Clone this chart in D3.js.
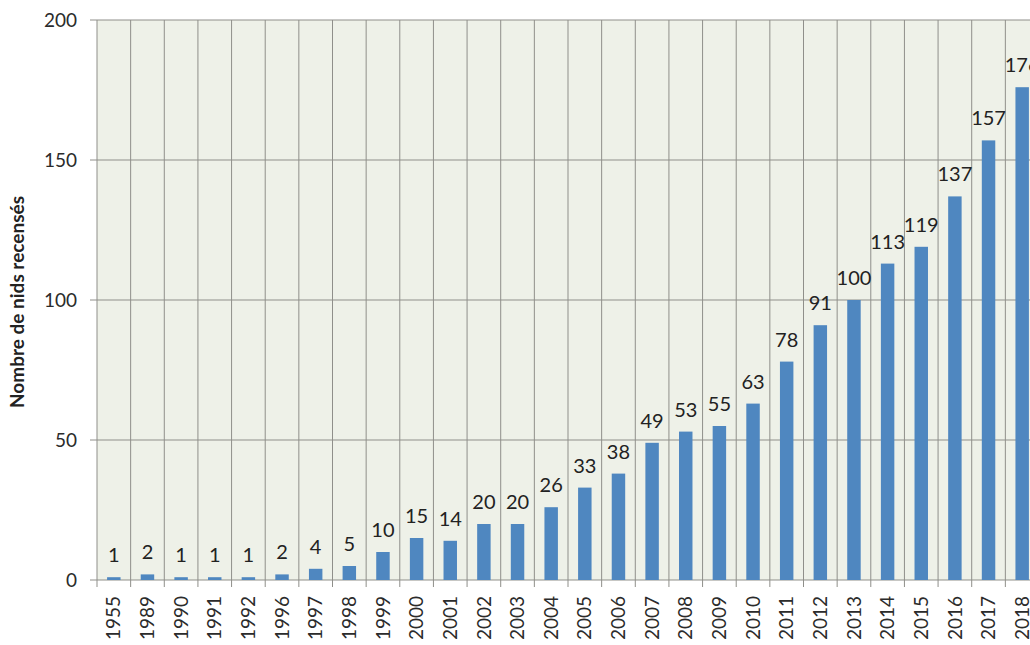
<!DOCTYPE html>
<html>
<head>
<meta charset="utf-8">
<script src="https://cdn.jsdelivr.net/npm/d3@7"></script>
<style>
  body { margin: 0; background: #fff; }
  svg { display: block; font-family: Lato, "Open Sans", sans-serif; }
  .tick text { fill: #2b2b2b; }
</style>
</head>
<body>
<div id="chart"></div>
<script>
const width = 1030;
const height = 645;
const margin = { top: 20, right: -9, bottom: 65, left: 97 };

const years = ["1955", "1989", "1990", "1991", "1992", "1996", "1997", "1998", "1999", "2000",
    "2001", "2002", "2003", "2004", "2005", "2006", "2007", "2008", "2009", "2010",
    "2011", "2012", "2013", "2014", "2015", "2016", "2017", "2018"];
const nids = [1, 2, 1, 1, 1, 2, 4, 5, 10, 15,
    14, 20, 20, 26, 33, 38, 49, 53, 55, 63,
    78, 91, 100, 113, 119, 137, 157, 176];
const yTicks = [0, 50, 100, 150, 200];

const svg = d3.select("#chart").append("svg")
    .attr("width", width)
    .attr("height", height);

const x = d3.scaleBand()
    .domain(years)
    .range([margin.left, width - margin.right])
    .paddingInner(0.6)
    .paddingOuter(0.3);

const y = d3.scaleLinear()
    .domain([0, 200])
    .range([height - margin.bottom, margin.top]);

// plot background (scanned paper tone)
svg.append("rect")
    .attr("x", margin.left)
    .attr("y", margin.top)
    .attr("width", width - margin.right - margin.left)
    .attr("height", y(0) - margin.top)
    .attr("fill", "#eef1e8");

// vertical grid at category borders
const step = x.step();
const borders = years.map((d, i) => margin.left + i * step).concat([margin.left + years.length * step]);
svg.append("g")
    .selectAll("line")
    .data(borders)
    .join("line")
    .attr("x1", d => d)
    .attr("x2", d => d)
    .attr("y1", margin.top)
    .attr("y2", y(0) + 7)
    .attr("stroke", "#8f8f8a")
    .attr("stroke-width", 1);

// horizontal grid
svg.append("g")
    .selectAll("line")
    .data(yTicks)
    .join("line")
    .attr("x1", margin.left - 7)
    .attr("x2", width)
    .attr("y1", d => y(d))
    .attr("y2", d => y(d))
    .attr("stroke", "#8f8f8a")
    .attr("stroke-width", 1);

// y axis labels
const yAxis = svg.append("g")
    .attr("transform", `translate(${margin.left},0)`)
    .call(d3.axisLeft(y).tickValues(yTicks).tickSize(0).tickPadding(20));
yAxis.select(".domain").remove();
yAxis.selectAll("text").style("font-size", "19px").style("font-family", "Lato, sans-serif");

// bars
svg.append("g")
    .selectAll("rect")
    .data(nids)
    .join("rect")
    .attr("x", (d, i) => x(years[i]))
    .attr("y", d => y(d))
    .attr("width", x.bandwidth())
    .attr("height", d => y(0) - y(d))
    .attr("fill", "#4f87c0");

// value labels
svg.append("g")
    .selectAll("text")
    .data(nids)
    .join("text")
    .attr("x", (d, i) => x(years[i]) + x.bandwidth() / 2)
    .attr("y", d => y(d) - 15)
    .attr("text-anchor", "middle")
    .style("font-size", "20px")
    .attr("fill", "#222")
    .text(d => d);

// x axis labels (rotated)
const xAxis = svg.append("g")
    .attr("transform", `translate(0,${y(0)})`)
    .call(d3.axisBottom(x).tickSize(0));
xAxis.select(".domain").remove();
xAxis.selectAll("text")
    .attr("transform", "rotate(-90)")
    .attr("text-anchor", "end")
    .attr("x", -16)
    .attr("y", 0)
    .attr("dy", "0.35em")
    .style("font-size", "19px")
    .style("font-family", "Lato, sans-serif");

// y title
svg.append("text")
    .attr("transform", "rotate(-90)")
    .attr("x", -302)
    .attr("y", 24)
    .attr("text-anchor", "middle")
    .style("font-size", "19px")
    .style("font-weight", "bold")
    .attr("fill", "#222")
    .text("Nombre de nids recensés");
</script>
</body>
</html>
